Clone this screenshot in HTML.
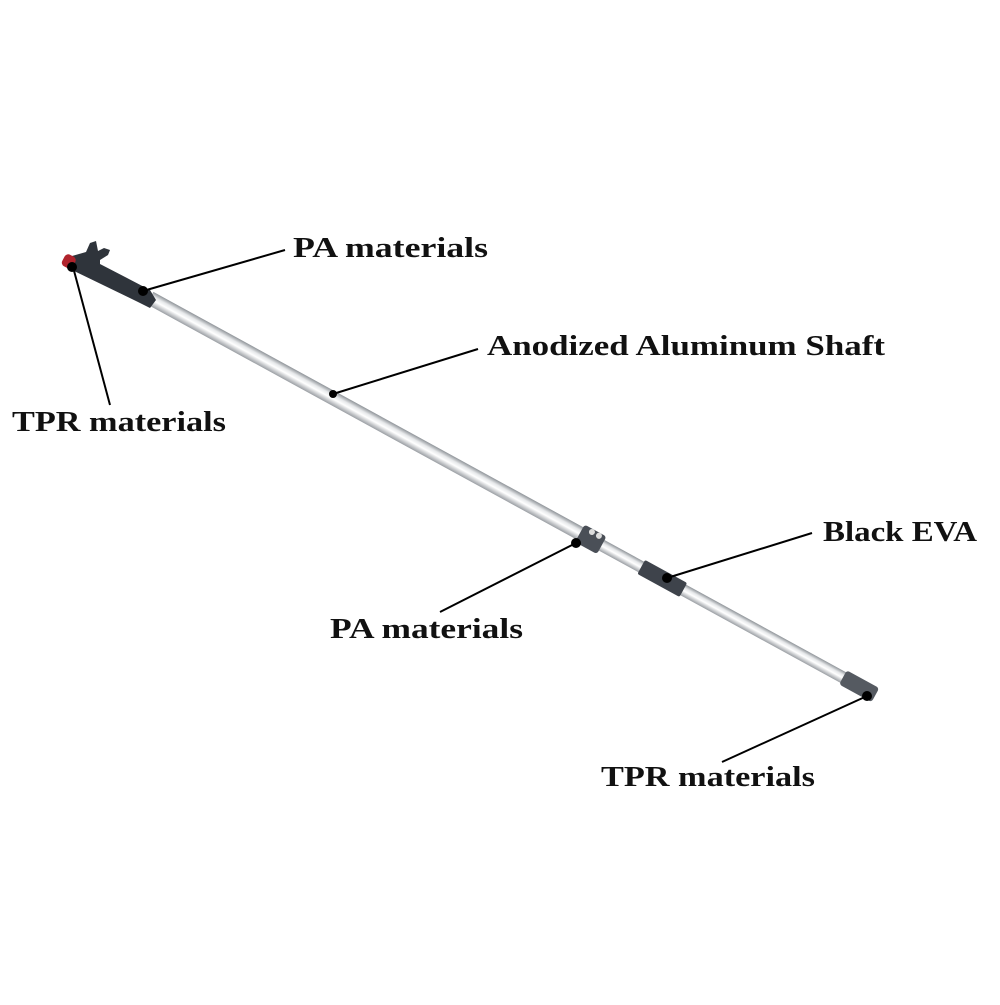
<!DOCTYPE html>
<html><head><style>
html,body{margin:0;padding:0;background:#fff;}
svg text{font-family:"Liberation Serif",serif;font-weight:bold;font-size:28px;fill:#111;}
</style></head><body>
<svg width="1000" height="1000" viewBox="0 0 1000 1000" xmlns="http://www.w3.org/2000/svg">
<defs>
<linearGradient id="al" x1="0" y1="0" x2="0" y2="1">
<stop offset="0" stop-color="#8e9398"/><stop offset="0.3" stop-color="#e6e8ea"/><stop offset="0.55" stop-color="#ffffff"/><stop offset="1" stop-color="#9a9ea3"/>
</linearGradient>
</defs>
<g transform="translate(150,298) rotate(28.7)">
<rect x="0" y="-7" width="500" height="14" fill="url(#al)"/>
<rect x="495" y="-6" width="328" height="12" fill="url(#al)"/>
<rect x="490" y="-10" width="25" height="20" rx="3" fill="#4a4f57"/>
<circle cx="500" cy="-7" r="3" fill="#ddd"/><circle cx="508" cy="-7" r="3" fill="#ddd"/>
<rect x="560" y="-8" width="48" height="16" rx="2" fill="#3e434b"/>
<rect x="790" y="-8" width="37" height="16" rx="3" fill="#555a61"/>
</g>
<!-- head -->
<path d="M72,256 L86,252 L90,243 L96,241 L98,251 L104,248 L110,250 L108,255 L100,260 L100,264 L150,290 L156,300 L150,308 L138,302 L72,270 Z" fill="#2f343b"/>
<rect x="63" y="255" width="12" height="13" rx="4" fill="#b0232c" transform="rotate(28 69 261)"/>
<g stroke="#000" stroke-width="2">
<line x1="143" y1="291" x2="285" y2="250"/>
<line x1="333" y1="394" x2="478" y2="349"/>
<line x1="73" y1="267" x2="110" y2="405"/>
<line x1="576" y1="543" x2="440" y2="612"/>
<line x1="667" y1="578" x2="812" y2="533"/>
<line x1="867" y1="696" x2="722" y2="762"/>
</g>
<g fill="#000">
<circle cx="143" cy="291" r="5"/><circle cx="333" cy="394" r="4"/><circle cx="72" cy="267" r="5"/>
<circle cx="576" cy="543" r="5"/><circle cx="667" cy="578" r="5"/><circle cx="867" cy="696" r="5"/>
</g>
<text x="293" y="257" textLength="195" lengthAdjust="spacingAndGlyphs">PA materials</text>
<text x="487" y="355" textLength="398" lengthAdjust="spacingAndGlyphs">Anodized Aluminum Shaft</text>
<text x="12" y="431" textLength="214" lengthAdjust="spacingAndGlyphs">TPR materials</text>
<text x="823" y="541" textLength="154" lengthAdjust="spacingAndGlyphs">Black EVA</text>
<text x="330" y="638" textLength="193" lengthAdjust="spacingAndGlyphs">PA materials</text>
<text x="601" y="786" textLength="214" lengthAdjust="spacingAndGlyphs">TPR materials</text>
</svg>
</body></html>
